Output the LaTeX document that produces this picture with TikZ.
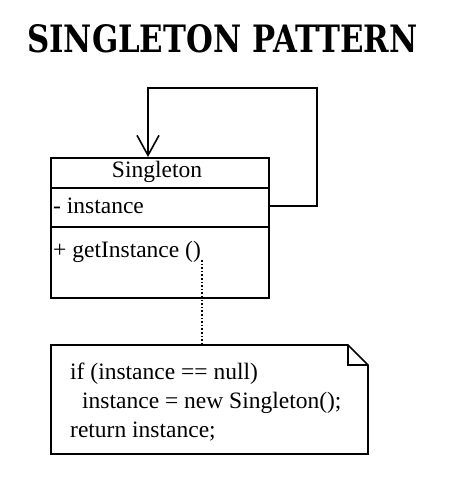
\documentclass[tikz,border=0pt]{standalone}
\usepackage{fontspec}
\usepackage{graphicx}
\setmainfont{Liberation Serif}
\newfontfamily\titlefont{DejaVu Serif}
\usetikzlibrary{arrows.meta}
\tikzset{
  txt/.style={anchor=base west, inner sep=0pt, font=\fontsize{23.5}{29}\selectfont},
  outline/.style={line width=1.6pt, line join=miter},
}
\begin{document}
\begin{tikzpicture}[x=1pt,y=-1pt]
\useasboundingbox (0,0) rectangle (453,482);
% title
\node[anchor=south west, inner sep=0pt] (title) at (27,53) {\resizebox{390pt}{28pt}{\titlefont\bfseries SINGLETON PATTERN}};
% class box
\node[draw, outline, minimum width=218pt, minimum height=140pt, anchor=north west, inner sep=0pt] (cls) at (50,157) {};
\coordinate (sep1) at (0,188);
\coordinate (sep2) at (0,227);
\draw[outline] (cls.west |- sep1) -- (cls.east |- sep1);
\draw[outline] (cls.west |- sep2) -- (cls.east |- sep2);
\node[anchor=base, inner sep=0pt, font=\fontsize{23.5}{29}\selectfont] (name) at (157,177) {Singleton};
\node[txt] (attr) at (53,213) {- instance};
\node[txt] (op) at (53,257) {+ getInstance ()};
% self association
\coordinate (loopy) at (0,206);
\coordinate (loopin) at (148,157);
\coordinate (looptop) at (148,88);
\coordinate (loopright) at (317,88);
\draw[outline, -{Straight Barb[length=20pt,width=22pt]}] (cls.east |- loopy) -- (loopright |- loopy) -- (loopright) -- (looptop) -- (loopin);
% note
\coordinate (nTL) at (51,345);
\coordinate (nBR) at (368,454);
\coordinate (fold) at (348,345);
\coordinate (foldB) at (368,365);
\draw[outline] (nTL) -- (fold) -- (foldB) -- (nBR) -- (nTL |- nBR) -- cycle;
\draw[line width=1.4pt] (fold) -- (fold |- foldB) -- (foldB);
\node[inner sep=0pt, minimum width=317pt, minimum height=109pt, anchor=north west] (note) at (nTL) {};
\node[txt] (l1) at (70,379) {if (instance == null)};
\node[txt] (l2) at (82,408) {instance = new Singleton();};
\node[txt] (l3) at (70,437) {return instance;};
% anchor line
\coordinate (opdot) at (202,260);
\draw[line width=1.6pt, dotted] (opdot) -- (opdot |- note.north);
\end{tikzpicture}
\end{document}
